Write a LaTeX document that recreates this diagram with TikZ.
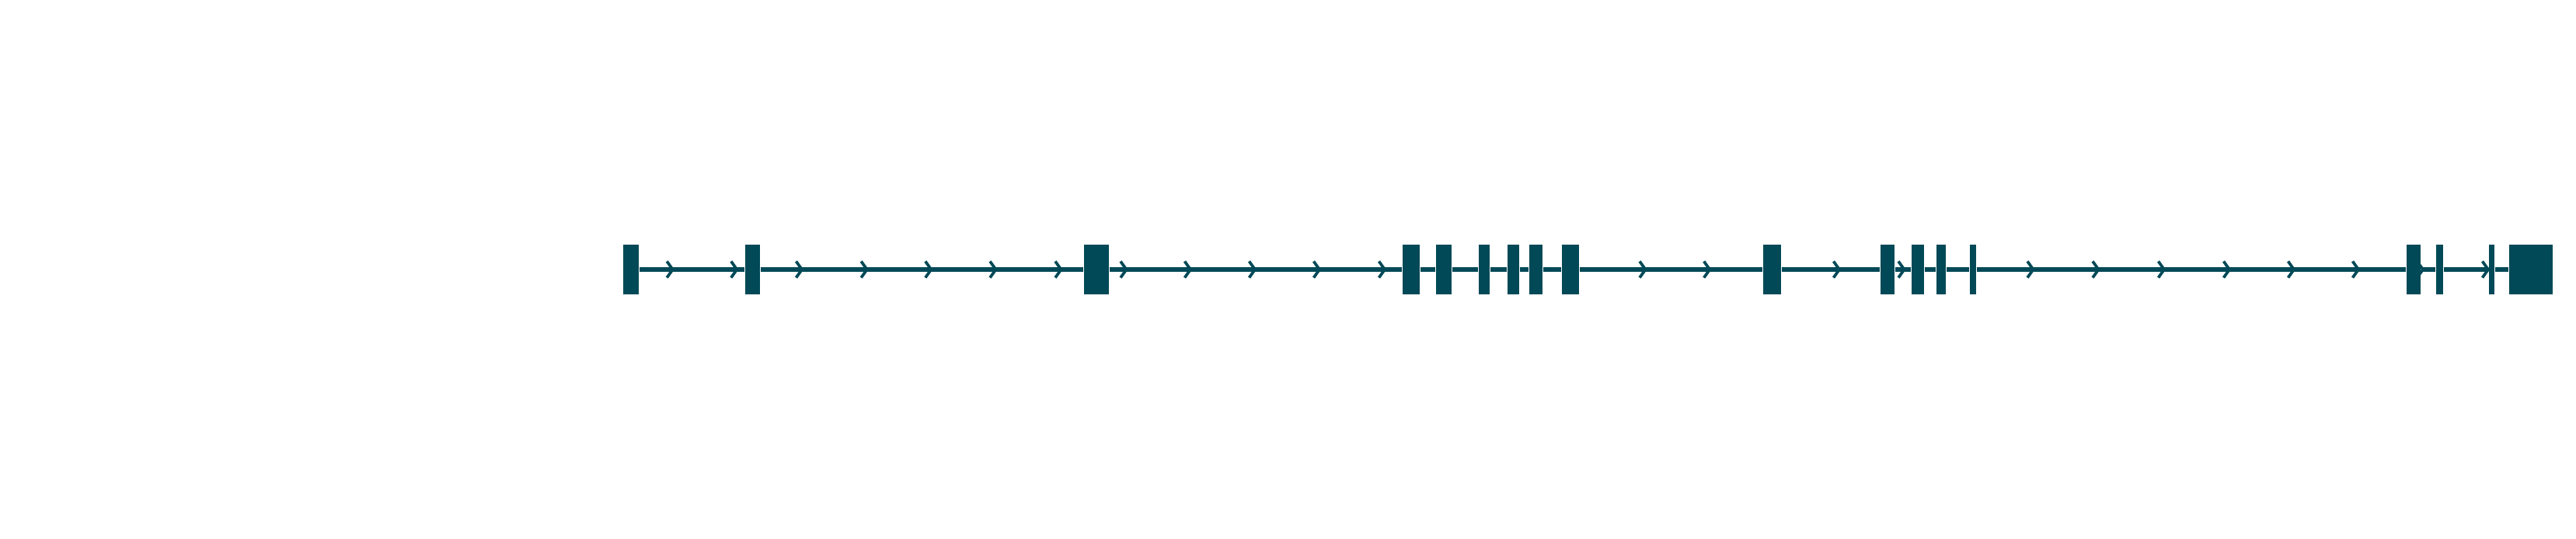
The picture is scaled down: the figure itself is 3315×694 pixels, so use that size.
\documentclass[tikz,border=0pt]{standalone}
\definecolor{genecol}{RGB}{2,73,87}
\begin{document}
\begin{tikzpicture}[x=0.01cm,y=-0.01cm,
  exon/.style={fill=genecol,draw=none,inner sep=0pt,minimum height=0.64cm},
  intron/.style={draw=genecol,line width=1.9pt},
  chev/.style={draw=genecol,line width=1.05pt,line join=miter}]
\useasboundingbox (0,0) rectangle (3315,694);
\fill[white] (0,0) rectangle (3315,694);
\foreach \a/\b [count=\i] in {802/822,959/978,1395/1427,1805/1827,1848/1868,1903/1917,1940/1955,1968/1985,2010/2032,2269/2292,2420/2438,2460/2476,2492/2504,2535/2543,3097/3115,3135/3144,3203/3210,3229/3285}{
  \pgfmathsetmacro\w{(\b-\a)*0.01}
  \node[exon,minimum width=\w cm] (e\i) at ({(\a+\b)/2},347) {};
}
\foreach \i [evaluate=\i as \j using int(\i+1)] in {1,...,17}{
  \draw[intron] (e\i.east) -- (e\j.west);
}
\foreach \t in {865.7,948.3,1032,1115.7,1198.3,1281.5,1365.5,1449.5,1532,1615,1698,1782,2117.5,2200.2,2367,2450.5,2616.5,2700.5,2785,2869,2952,3035,3118,3202}{
  \draw[chev] (\t-7.5,336.5) -- (\t,347) -- (\t-7.5,357.5);
}
\end{tikzpicture}
\end{document}
